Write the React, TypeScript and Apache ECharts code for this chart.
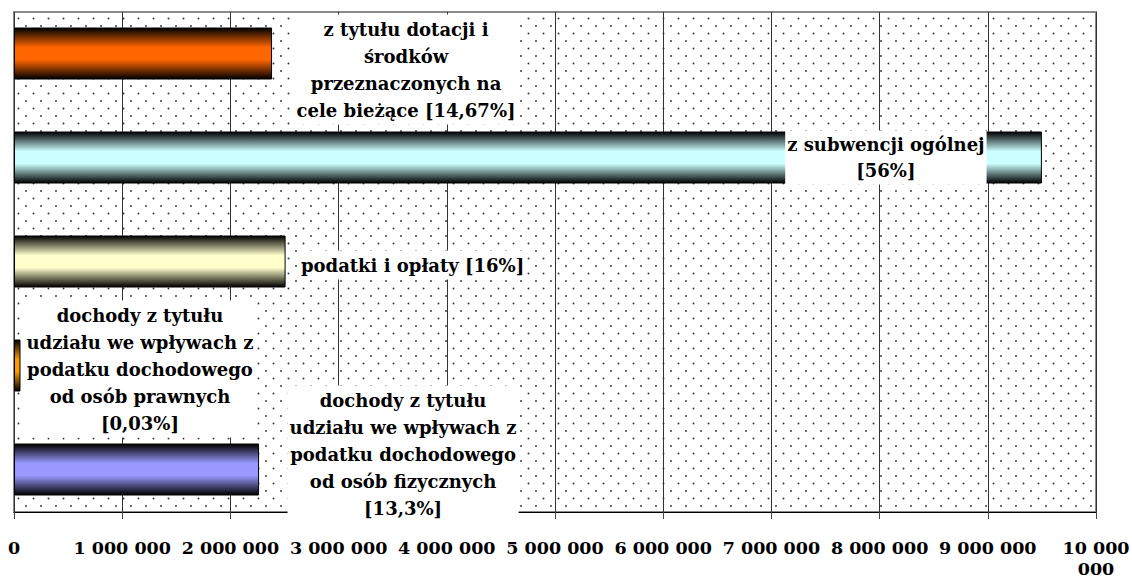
import React, { useEffect, useRef } from 'react';
import * as echarts from 'echarts';

// Categories from bottom to top
const categories = [
  'dochody z tytułu udziału we wpływach z podatku dochodowego od osób fizycznych',
  'dochody z tytułu udziału we wpływach z podatku dochodowego od osób prawnych',
  'podatki i opłaty',
  'z subwencji ogólnej',
  'z tytułu dotacji i środków przeznaczonych na cele bieżące',
];
const values = [2265000, 60000, 2510000, 9500000, 2385000];
const shares = ['13,3%', '0,03%', '16%', '56%', '14,67%'];
const labelLines = [
  ['dochody z tytułu', 'udziału we wpływach z', 'podatku dochodowego', 'od osób fizycznych'],
  ['dochody z tytułu', 'udziału we wpływach z', 'podatku dochodowego', 'od osób prawnych'],
  ['podatki i opłaty'],
  ['z subwencji ogólnej'],
  ['z tytułu dotacji i', 'środków', 'przeznaczonych na', 'cele bieżące'],
];
const shareOnNewLine = [true, true, false, true, false];
const barColors = ['#9999FF', '#FF9900', '#FFFFCC', '#CCFFFF', '#FF6600'];

const axisMin = 0;
const axisMax = 10000000;
const axisStep = 1000000;

// label placement (not data)
const labelLayout = [
  { position: 'right', distance: 144, dy: -15.5, lh: 27 },
  { position: 'right', distance: 119.5, dy: 3.5, lh: 27 },
  { position: 'right', distance: 127, dy: 3.5, lh: 27 },
  { position: 'insideRight', distance: 156, dy: 0, lh: 26 },
  { position: 'right', distance: 134, dy: 16, lh: 27 },
];

const FONT = 'DejaVu Serif';

function makeDots(): HTMLCanvasElement {
  const c = document.createElement('canvas');
  c.width = 15;
  c.height = 15;
  const ctx = c.getContext('2d')!;
  ctx.fillStyle = '#ffffff';
  ctx.fillRect(0, 0, 15, 15);
  ctx.fillStyle = '#333333';
  ctx.beginPath();
  ctx.arc(3.5, 3.5, 0.95, 0, Math.PI * 2);
  ctx.fill();
  ctx.beginPath();
  ctx.arc(11, 11, 0.95, 0, Math.PI * 2);
  ctx.fill();
  return c;
}

function grad(color: string) {
  return {
    type: 'linear',
    x: 0,
    y: 0,
    x2: 0,
    y2: 1,
    colorStops: [
      { offset: 0, color: '#000000' },
      { offset: 0.38, color },
      { offset: 0.62, color },
      { offset: 1, color: '#000000' },
    ],
  };
}

function fmt(v: number): string {
  const s = String(Math.round(v)).replace(/\B(?=(\d{3})+(?!\d))/g, ' ');
  // the widest label wraps onto a second line, as in the original
  if (v >= axisMax) {
    const k = s.lastIndexOf(' ');
    return s.slice(0, k) + '\n' + s.slice(k + 1);
  }
  return s;
}

export default function App() {
  const ref = useRef<HTMLDivElement>(null);
  useEffect(() => {
    if (!ref.current) return;
    const chart = echarts.init(ref.current, undefined, { renderer: 'svg' });
    const dots = makeDots();
    const plot = { left: 14, top: 12, width: 1082, height: 500 };

    const data = values.map((v, i) => {
      const L = labelLayout[i];
      const text =
        labelLines[i].join('\n') + (shareOnNewLine[i] ? '\n' : ' ') + '[' + shares[i] + ']';
      return {
        value: v,
        name: categories[i],
        itemStyle: { color: grad(barColors[i]), borderColor: '#000', borderWidth: 1 },
        label: {
          show: true,
          position: L.position,
          distance: L.distance,
          offset: [0, L.dy],
          align: 'center',
          verticalAlign: 'middle',
          formatter: text,
          backgroundColor: '#ffffff',
          padding: [1, 2],
          lineHeight: L.lh,
          fontSize: 18,
          fontWeight: 'bold',
          fontFamily: FONT,
          color: '#000',
        },
      };
    });

    chart.setOption({
      animation: false,
      backgroundColor: '#ffffff',
      textStyle: { fontFamily: FONT },
      graphic: [
        {
          type: 'rect',
          z: -1,
          silent: true,
          shape: { x: plot.left, y: plot.top, width: plot.width, height: plot.height },
          style: {
            fill: { image: dots, repeat: 'repeat', imageWidth: 15, imageHeight: 15 },
            stroke: '#8a8a8a',
            lineWidth: 2,
          },
        },
      ],
      grid: [
        {
          left: plot.left,
          top: plot.top,
          width: plot.width,
          height: plot.height,
          containLabel: false,
          outerBoundsMode: 'none',
        },
        {
          left: plot.left,
          top: 1.5,
          width: plot.width,
          height: 520,
          containLabel: false,
          outerBoundsMode: 'none',
        },
      ],
      xAxis: [
        {
          type: 'value',
          gridIndex: 0,
          min: axisMin,
          max: axisMax,
          interval: axisStep,
          axisLine: { show: true, lineStyle: { color: '#000', width: 1 } },
          axisTick: { show: true, length: 7, lineStyle: { color: '#444' } },
          splitLine: { show: true, lineStyle: { color: '#333333', width: 1 } },
          axisLabel: {
            show: true,
            formatter: (v: number) => fmt(v),
            fontFamily: FONT,
            fontWeight: 'bold',
            fontSize: 17.5,
            color: '#000',
            margin: 25,
            lineHeight: 21,
            showMinLabel: true,
            showMaxLabel: true,
            hideOverlap: false,
          },
        },
        { type: 'value', gridIndex: 1, min: axisMin, max: axisMax, show: false },
      ],
      yAxis: [
        { type: 'value', gridIndex: 0, show: false },
        { type: 'category', gridIndex: 1, data: categories, show: false },
      ],
      series: [
        {
          type: 'bar',
          xAxisIndex: 1,
          yAxisIndex: 1,
          barWidth: 52,
          data,
        },
      ],
    });
    return () => chart.dispose();
  }, []);
  return (
    <div
      ref={ref}
      style={{ position: 'absolute', left: 0, top: 0, width: 1132, height: 580 }}
    />
  );
}
